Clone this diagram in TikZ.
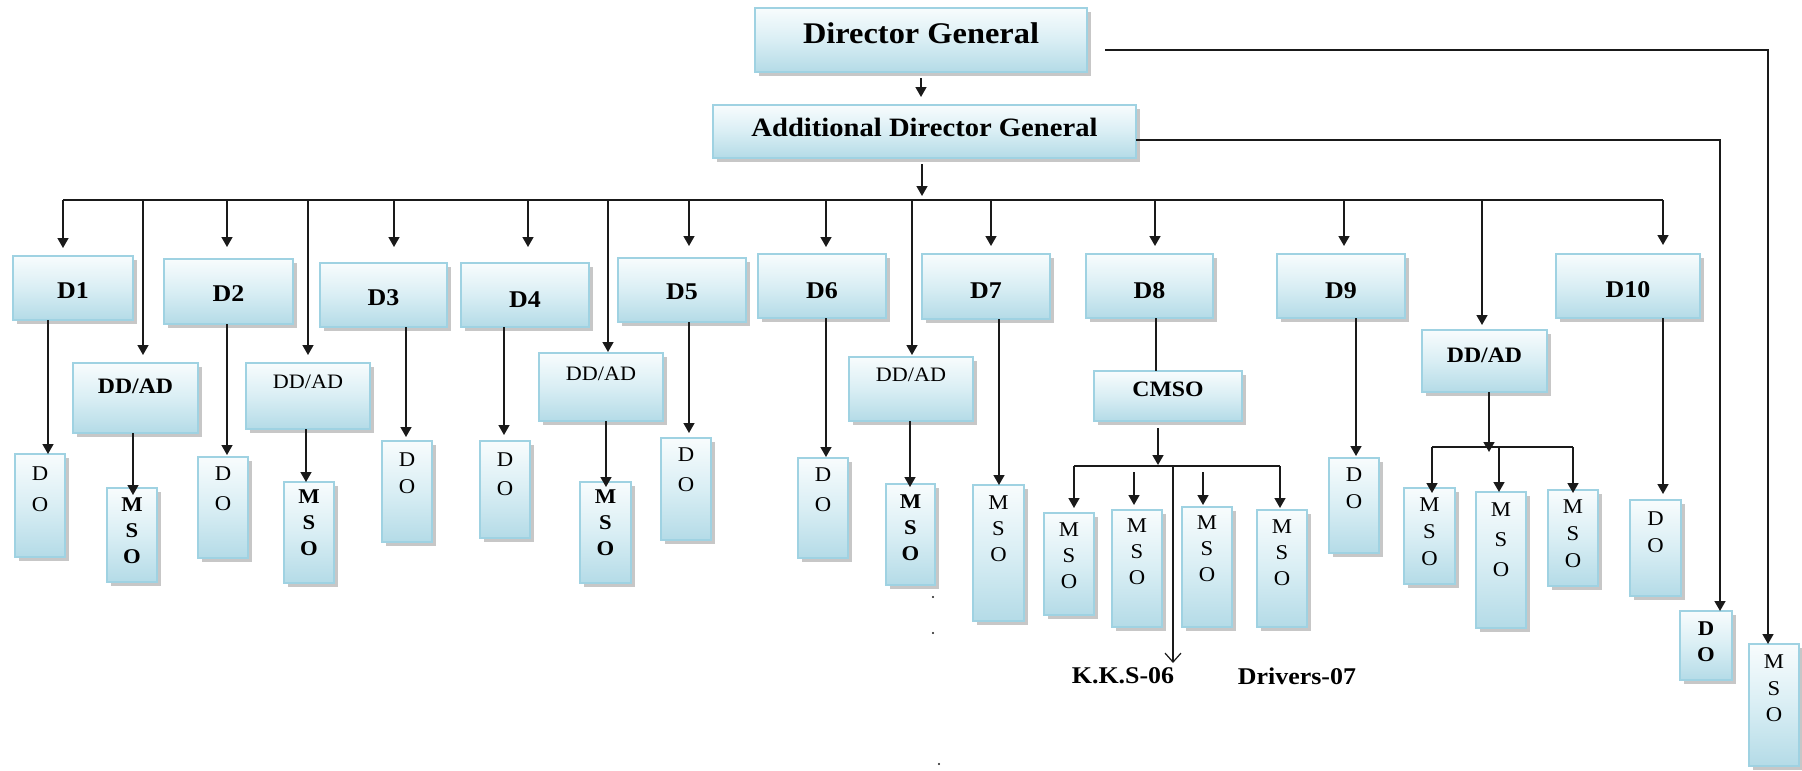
\documentclass[tikz,border=0pt]{standalone}
\usepackage{fontspec}
\setmainfont{Liberation Serif}[FakeStretch=1.08]
\usetikzlibrary{arrows.meta,shadows}

\definecolor{boxtop}{HTML}{F8FCFD}
\definecolor{boxmid}{HTML}{D9EEF4}
\definecolor{boxbot}{HTML}{B4DBE7}
\definecolor{boxedge}{HTML}{9FD2E2}
\definecolor{wirecol}{HTML}{1A1A1A}

\tikzset{
  orgbox/.style={draw=boxedge, line width=1.2pt,
    top color=boxtop, bottom color=boxbot, middle color=boxmid,
    inner sep=0pt, outer sep=0pt, anchor=north west,
    drop shadow={shadow xshift=4pt, shadow yshift=-4pt, fill=black!40, opacity=0.55}},
  wire/.style={draw=wirecol, line width=1.5pt},
  arr/.style={wire, -{Triangle[length=10pt,width=11pt]}},
  openarr/.style={wire, line width=1.2pt, -{Straight Barb[length=9pt,width=16pt]}},
  lab/.style={font=\bfseries\fontsize{24}{30}\selectfont, inner sep=0pt},
}

% box from (x1,y1) to (x2,y2), text set #6 units below the top edge
\newcommand\orgnode[7]{%
  \pgfmathsetmacro\obw{#4-#2}%
  \pgfmathsetmacro\obh{#5-#3}%
  \node[orgbox] (#1) at (#2,#3)
    {\parbox[c][\obh pt][t]{\obw pt}{\centering\vspace*{#6pt}#7\par}};%
}
\newcommand\dtxt[1]{{\bfseries\fontsize{24}{28}\selectfont #1}}
\newcommand\ddb{{\bfseries\fontsize{22}{26}\selectfont DD/AD}}
\newcommand\ddr{{\fontsize{20.5}{26}\selectfont DD/AD}}
\newcommand\colb[2]{\bfseries\fontsize{21}{#1}\selectfont #2}
\newcommand\colr[2]{\fontsize{21}{#1}\selectfont #2}

\begin{document}
\begin{tikzpicture}[x=1pt,y=-1pt]
\path[use as bounding box, fill=white] (0,0) rectangle (1802,771);

% top management
\orgnode{dg}{755}{8}{1087}{72}{15}{{\bfseries\fontsize{30}{36}\selectfont Director General}}
\orgnode{adg}{713}{105}{1136}{158}{13}{{\bfseries\fontsize{26.5}{32}\selectfont Additional Director General}}

% directorates
\orgnode{d1}{13}{256}{133}{320}{27}{\dtxt{D1}}
\orgnode{d2}{164}{259}{293}{324}{27}{\dtxt{D2}}
\orgnode{d3}{320}{263}{447}{327}{27}{\dtxt{D3}}
\orgnode{d4}{461}{263}{589}{327}{29}{\dtxt{D4}}
\orgnode{d5}{618}{258}{746}{322}{26}{\dtxt{D5}}
\orgnode{d6}{758}{254}{886}{318}{29}{\dtxt{D6}}
\orgnode{d7}{922}{254}{1050}{319}{29}{\dtxt{D7}}
\orgnode{d8}{1086}{254}{1213}{318}{29}{\dtxt{D8}}
\orgnode{d9}{1277}{254}{1405}{318}{29}{\dtxt{D9}}
\orgnode{d10}{1556}{254}{1700}{318}{28}{\dtxt{D10}}

% deputy / assistant directors
\orgnode{dd1}{73}{363}{198}{433}{16}{\ddb}
\orgnode{dd2}{246}{363}{370}{429}{12}{\ddr}
\orgnode{dd3}{539}{353}{663}{421}{14}{\ddr}
\orgnode{dd4}{849}{357}{973}{421}{11}{\ddr}
\orgnode{dd5}{1422}{330}{1547}{392}{18}{\ddb}
\orgnode{cmso}{1094}{371}{1242}{421}{11}{{\bfseries\fontsize{22}{28}\selectfont CMSO}}

% officers
\orgnode{do1}{15}{454}{65}{557}{13}{\colr{31}{D\\O}}
\orgnode{mso1}{107}{488}{157}{582}{10}{\colb{26}{M\\S\\O}}
\orgnode{do2}{198}{457}{248}{558}{10}{\colr{30}{D\\O}}
\orgnode{mso2}{284}{482}{334}{583}{8}{\colb{26}{M\\S\\O}}
\orgnode{do3}{382}{441}{432}{542}{12}{\colr{27}{D\\O}}
\orgnode{do4}{480}{441}{530}{538}{12}{\colr{29}{D\\O}}
\orgnode{mso3}{580}{482}{631}{583}{8}{\colb{26}{M\\S\\O}}
\orgnode{do5}{661}{438}{711}{540}{10}{\colr{30}{D\\O}}
\orgnode{do6}{798}{458}{848}{558}{10}{\colr{30}{D\\O}}
\orgnode{mso4}{886}{484}{935}{585}{11}{\colb{26}{M\\S\\O}}
\orgnode{mso7}{973}{485}{1024}{621}{11}{\colr{26}{M\\S\\O}}
\orgnode{m81}{1044}{513}{1094}{615}{10}{\colr{26}{M\\S\\O}}
\orgnode{m82}{1112}{510}{1162}{627}{9}{\colr{26}{M\\S\\O}}
\orgnode{m83}{1182}{507}{1232}{627}{9}{\colr{26}{M\\S\\O}}
\orgnode{m84}{1257}{510}{1307}{627}{10}{\colr{26}{M\\S\\O}}
\orgnode{do9}{1329}{458}{1379}{553}{10}{\colr{27}{D\\O}}
\orgnode{m51}{1404}{488}{1455}{584}{10}{\colr{27}{M\\S\\O}}
\orgnode{m52}{1476}{492}{1526}{628}{11}{\colr{30}{M\\S\\O}}
\orgnode{m53}{1548}{490}{1598}{586}{10}{\colr{27}{M\\S\\O}}
\orgnode{do10}{1630}{500}{1681}{596}{12}{\colr{27}{D\\O}}
\orgnode{doA}{1680}{611}{1732}{680}{11}{\colb{26}{D\\O}}
\orgnode{msoG}{1749}{644}{1799}{766}{11}{\colr{26.5}{M\\S\\O}}

% staff labels
\node[lab] (kks) at (1123,676) {K.K.S-06};
\node[lab] (drv) at (1297,676) {Drivers-07};

% direct lines from the top
\draw[arr, shorten <=6pt, shorten >=8pt] (dg.south) -- (dg.south |- adg.north);
\coordinate (dgR) at (1768,50);
\draw[arr, shorten <=18pt] ([yshift=-10pt]dg.east) -- (dgR) -- (dgR |- msoG.north);
\coordinate (adgR) at (1720,140);
\draw[arr] ([yshift=-8.5pt]adg.east) -- (adgR) -- (adgR |- doA.north);

% main bus
\coordinate (busL) at (63,200);
\coordinate (busR) at (1663,200);
\coordinate (busC) at (922,200);
\draw[wire] (busL) -- (busR);
\draw[arr, shorten <=6pt, shorten >=4pt] (adg.south -| busC) -- (busC);
\foreach \x/\t/\g in {63/d1/8, 227/d2/12, 394/d3/16, 528/d4/16, 689/d5/12,
    826/d6/7, 991/d7/8, 1155/d8/8, 1344/d9/8, 1663/d10/9,
    143/dd1/8, 308/dd2/8, 608/dd3/1, 912/dd4/2, 1482/dd5/5}
  { \coordinate (bx) at (\x,200);
    \draw[arr, shorten >=\g pt] (bx) -- (bx |- \t.north); }

% one-to-one links
\foreach \x/\a/\b/\g in {48/d1/do1/0, 227/d2/do2/2, 406/d3/do3/4, 504/d4/do4/6,
    689/d5/do5/5, 826/d6/do6/1, 999/d7/mso7/0, 1356/d9/do9/2, 1663/d10/do10/6,
    133/dd1/mso1/-7, 306/dd2/mso2/0, 606/dd3/mso3/-5, 910/dd4/mso4/-3}
  { \coordinate (vx) at (\x,0);
    \draw[arr, shorten >=\g pt] (vx |- \a.south) -- (vx |- \b.north); }

% D8 / CMSO branch
\coordinate (c8) at (1156,0);
\draw[wire] (c8 |- d8.south) -- (c8 |- cmso.north);
\coordinate (cj) at (1158,466);
\coordinate (cl) at (1074,466);
\coordinate (cr) at (1280,466);
\coordinate (c2) at (1134,472);
\coordinate (c3) at (1203,472);
\coordinate (ck) at (1173,466);
\coordinate (kksTip) at (1173,663);
\draw[arr, shorten <=7pt, shorten >=1pt] (cj |- cmso.south) -- (cj);
\draw[wire] (cl) -- (cr);
\draw[arr, shorten >=5pt] (cl) -- (cl |- m81.north);
\draw[arr, shorten >=5pt] (c2) -- (c2 |- m82.north);
\draw[arr, shorten >=2pt] (c3) -- (c3 |- m83.north);
\draw[arr, shorten >=2pt] (cr) -- (cr |- m84.north);
\draw[openarr] (ck) -- (kksTip);

% D10-side DD/AD branch
\coordinate (dj) at (1489,447);
\coordinate (dl) at (1432,447);
\coordinate (dm) at (1499,447);
\coordinate (dr) at (1573,447);
\draw[arr, shorten >=-5pt] (dj |- dd5.south) -- (dj);
\draw[wire] (dl) -- (dr);
\draw[arr, shorten >=-5pt] (dl) -- (dl |- m51.north);
\draw[arr] (dm) -- (dm |- m52.north);
\draw[arr, shorten >=-3pt] (dr) -- (dr |- m53.north);

% stray print dots
\fill[wirecol] (933,597) circle[radius=1.2pt];
\fill[wirecol] (933,633) circle[radius=1.2pt];
\fill[wirecol] (939,764) circle[radius=1.2pt];
\end{tikzpicture}
\end{document}
